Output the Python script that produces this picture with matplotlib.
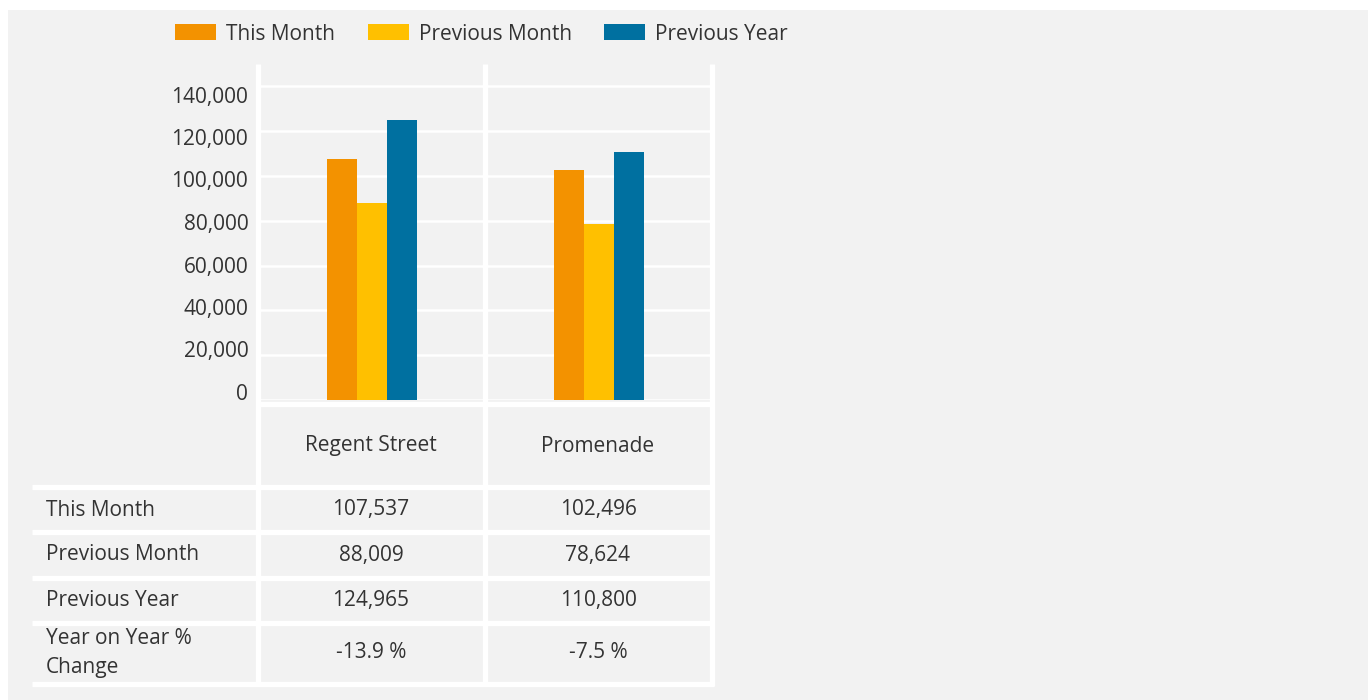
import matplotlib
matplotlib.use('Agg')
import matplotlib.pyplot as plt
from matplotlib.patches import Rectangle
from matplotlib.transforms import ScaledTranslation

plt.rcParams['font.family'] = ['Open Sans', 'DejaVu Sans']

# data
locations = ['Regent Street', 'Promenade']
series_names = ['This Month', 'Previous Month', 'Previous Year']
this_month = [107537, 102496]
previous_month = [88009, 78624]
previous_year = [124965, 110800]
yoy_change = ['-13.9 %', '-7.5 %']
row_labels = ['This Month', 'Previous Month', 'Previous Year', 'Year on Year %\nChange']
y_ticks = [0, 20000, 40000, 60000, 80000, 100000, 120000, 140000]

colors = ['#F39200', '#FFC000', '#0070A0']
bg_color = '#F2F2F2'
text_color = '#333333'
fs = 15

W, H = 1368, 700


def fig_box(x0, y0, x1, y1):
    return [x0 / W, 1 - y1 / H, (x1 - x0) / W, (y1 - y0) / H]


fig = plt.figure(figsize=(W / 100, H / 100), dpi=100, facecolor='white')

# background layer in pixel coordinates (panel, table lines, table text)
bg = fig.add_axes([0, 0, 1, 1], zorder=0)
bg.set_xlim(0, W)
bg.set_ylim(H, 0)
bg.axis('off')
bg.add_patch(Rectangle((8, 10), W - 8, H - 10, color=bg_color, lw=0))

# bar chart
ax = fig.add_axes(fig_box(258, 64, 712, 400), zorder=2)
ax.set_facecolor('none')
width = 30 / 227
series = [this_month, previous_month, previous_year]
handles = []
for i, vals in enumerate(series):
    xs = [k + (i - 1) * width for k in range(len(locations))]
    b = ax.bar(xs, vals, width=width, color=colors[i], label=series_names[i], zorder=3)
    handles.append(b)

ax.set_xlim(-0.5, len(locations) - 0.5)
ax.set_ylim(0, 150000)
ax.set_yticks(y_ticks)
ax.set_yticklabels(['{:,}'.format(v) for v in y_ticks])
ax.set_xticks([])
ax.yaxis.grid(True, color='white', lw=1.8)
ax.set_axisbelow(True)
for s in ax.spines.values():
    s.set_visible(False)
ax.tick_params(axis='y', length=0, pad=7, labelsize=fs, labelcolor=text_color)
# labels in the original are spread a little tighter than the gridlines
for i, lbl in enumerate(ax.get_yticklabels()):
    lbl.set_transform(lbl.get_transform() +
                      ScaledTranslation(0, (8 - 2.3 * i) / 100, fig.dpi_scale_trans))

# table frame lines
line_kw = dict(color='white', lw=3.8, solid_capstyle='butt')
col_edges = [257.5, 485, 712]
for x in col_edges:
    bg.plot([x, x], [64, 686], **line_kw)
bg.plot([255.5, 714], [403.5, 403.5], **line_kw)
row_lines = [486.5, 532, 577.5, 623, 683.5]
for y in row_lines:
    bg.plot([32, 714], [y, y], **line_kw)

col_centers = [371, 598]
txt_kw = dict(color=text_color, fontsize=fs, va='center')
for j, name in enumerate(locations):
    bg.text(col_centers[j], 446, name, ha='center', **txt_kw)

row_centers = [510, 555, 600.5, 653]
for r, label in enumerate(row_labels):
    bg.text(46, row_centers[r], label, ha='left', linespacing=1.45, **txt_kw)

cells = [['{:,}'.format(v) for v in this_month],
         ['{:,}'.format(v) for v in previous_month],
         ['{:,}'.format(v) for v in previous_year],
         yoy_change]
for r, row in enumerate(cells):
    for j, val in enumerate(row):
        bg.text(col_centers[j], row_centers[r], val, ha='center', **txt_kw)

fig.legend(handles=handles, labels=series_names, loc='center',
           bbox_to_anchor=(481.5 / W, 1 - 34 / H), ncol=3, frameon=False,
           fontsize=fs, labelcolor=text_color, handlelength=1.97,
           handleheight=0.77, handletextpad=0.48, columnspacing=1.55)

fig.savefig('out.png', dpi=100, facecolor='white')
